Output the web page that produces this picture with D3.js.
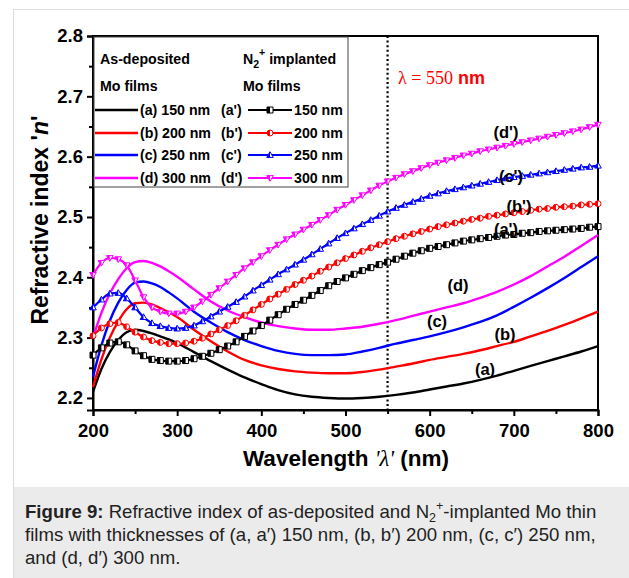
<!DOCTYPE html>
<html>
<head>
<meta charset="utf-8">
<script src="https://cdn.jsdelivr.net/npm/d3@7"></script>
<style>
  body { margin: 0; background: #fff; }
  svg { display: block; font-family: 'Liberation Sans', Arial, sans-serif; }
</style>
</head>
<body>
<svg id="chart" width="629" height="578"></svg>
<script>
'use strict'

// wavelengths (nm) of the as-deposited curves
const WL_SOLID = [200, 210, 220, 230, 240, 250, 260, 270, 280, 290, 300, 320, 340, 360, 380, 400, 420, 440, 460, 480,
  500, 520, 540, 560, 580, 600, 620, 640, 660, 680, 700, 720, 740, 760, 780, 800]

// refractive index, as-deposited films
const N_A = [2.210, 2.248, 2.276, 2.296, 2.309, 2.313, 2.311, 2.307, 2.302, 2.297, 2.291, 2.276, 2.261, 2.247, 2.234, 2.223, 2.213, 2.206, 2.202, 2.200,
  2.199, 2.200, 2.202, 2.205, 2.209, 2.214, 2.219, 2.224, 2.230, 2.237, 2.245, 2.253, 2.261, 2.269, 2.277, 2.286]
const N_B = [2.218, 2.264, 2.300, 2.327, 2.347, 2.357, 2.358, 2.355, 2.349, 2.342, 2.334, 2.313, 2.294, 2.277, 2.263, 2.254, 2.248, 2.244, 2.242, 2.241,
  2.241, 2.243, 2.247, 2.252, 2.257, 2.263, 2.268, 2.273, 2.279, 2.286, 2.293, 2.302, 2.311, 2.321, 2.332, 2.343]
const N_C = [2.235, 2.287, 2.328, 2.358, 2.379, 2.391, 2.393, 2.390, 2.384, 2.375, 2.365, 2.343, 2.325, 2.309, 2.296, 2.286, 2.278, 2.273, 2.271, 2.271,
  2.272, 2.277, 2.283, 2.290, 2.296, 2.302, 2.309, 2.317, 2.326, 2.337, 2.351, 2.366, 2.382, 2.399, 2.417, 2.435]
const N_D = [2.300, 2.341, 2.373, 2.397, 2.415, 2.425, 2.427, 2.424, 2.418, 2.410, 2.401, 2.380, 2.360, 2.345, 2.334, 2.325, 2.319, 2.315, 2.313, 2.313,
  2.315, 2.318, 2.323, 2.329, 2.336, 2.343, 2.350, 2.357, 2.366, 2.376, 2.388, 2.402, 2.418, 2.434, 2.452, 2.470]

// wavelengths (nm) of the N2+ implanted curves
const WL_IMPL = [200, 210, 220, 230, 240, 250, 260, 270, 280, 290, 300, 310, 320, 330, 340, 350, 360, 370, 380, 390,
  400, 410, 420, 430, 440, 450, 460, 470, 480, 490, 500, 510, 520, 530, 540, 550, 560, 570, 580, 590,
  600, 610, 620, 630, 640, 650, 660, 670, 680, 690, 700, 710, 720, 730, 740, 750, 760, 770, 780, 790, 800]

// refractive index, N2+ implanted films
const N_A2 = [2.271, 2.283, 2.291, 2.293, 2.288, 2.278, 2.270, 2.264, 2.262, 2.261, 2.261, 2.262, 2.265, 2.269, 2.274, 2.280, 2.286, 2.293, 2.302, 2.311,
  2.320, 2.329, 2.338, 2.347, 2.355, 2.362, 2.370, 2.378, 2.386, 2.393, 2.399, 2.405, 2.411, 2.416, 2.421, 2.425, 2.430, 2.435, 2.440, 2.444,
  2.448, 2.451, 2.454, 2.457, 2.460, 2.462, 2.464, 2.466, 2.468, 2.470, 2.471, 2.473, 2.474, 2.476, 2.477, 2.478, 2.479, 2.480, 2.481, 2.483, 2.484]
const N_B2 = [2.303, 2.316, 2.323, 2.325, 2.318, 2.309, 2.301, 2.295, 2.292, 2.290, 2.290, 2.291, 2.294, 2.299, 2.306, 2.313, 2.320, 2.328, 2.337, 2.346,
  2.355, 2.364, 2.372, 2.380, 2.388, 2.395, 2.402, 2.410, 2.417, 2.424, 2.431, 2.437, 2.443, 2.449, 2.454, 2.459, 2.464, 2.468, 2.472, 2.476,
  2.480, 2.484, 2.487, 2.490, 2.493, 2.496, 2.498, 2.501, 2.503, 2.505, 2.507, 2.509, 2.511, 2.513, 2.514, 2.516, 2.517, 2.518, 2.520, 2.521, 2.522]
const N_C2 = [2.350, 2.363, 2.373, 2.374, 2.365, 2.350, 2.334, 2.324, 2.319, 2.316, 2.315, 2.316, 2.320, 2.327, 2.335, 2.343, 2.351, 2.359, 2.368, 2.378,
  2.387, 2.396, 2.405, 2.413, 2.421, 2.429, 2.438, 2.447, 2.456, 2.465, 2.473, 2.481, 2.488, 2.495, 2.502, 2.509, 2.515, 2.520, 2.525, 2.530,
  2.535, 2.539, 2.543, 2.546, 2.549, 2.552, 2.555, 2.558, 2.561, 2.564, 2.566, 2.568, 2.570, 2.572, 2.574, 2.576, 2.578, 2.580, 2.582, 2.583, 2.585]
const N_D2 = [2.404, 2.424, 2.432, 2.430, 2.420, 2.395, 2.367, 2.350, 2.343, 2.340, 2.340, 2.343, 2.350, 2.360, 2.371, 2.382, 2.393, 2.404, 2.415, 2.425,
  2.435, 2.445, 2.454, 2.463, 2.471, 2.479, 2.487, 2.495, 2.503, 2.512, 2.520, 2.528, 2.536, 2.544, 2.552, 2.559, 2.565, 2.571, 2.576, 2.581,
  2.586, 2.590, 2.594, 2.598, 2.602, 2.605, 2.609, 2.612, 2.615, 2.618, 2.621, 2.624, 2.627, 2.630, 2.633, 2.636, 2.639, 2.642, 2.645, 2.649, 2.653]

const X_TICKS = [200, 300, 400, 500, 600, 700, 800]
const X_MINOR = [250, 350, 450, 550, 650, 750]
const Y_TICKS = [2.2, 2.3, 2.4, 2.5, 2.6, 2.7, 2.8]
const Y_MINOR = [2.25, 2.35, 2.45, 2.55, 2.65, 2.75]
const LAMBDA_MARK = 550

const LABELS = ['(a)', '(b)', '(c)', '(d)']
const LABELS_IMPL = ["(a')", "(b')", "(c')", "(d')"]
const THICKNESS = ['150 nm', '200 nm', '250 nm', '300 nm']

const COLORS = ['#000000', '#ff0000', '#0000ff', '#ff00ff']
const SHAPES = ['square', 'circle', 'up', 'down']

const PLOT = { left: 93, right: 598, top: 36, bottom: 410 }
const FONT = "'Liberation Sans', Arial, sans-serif"

const svg = d3.select('#chart')

// card and caption panel
svg.append('rect')
  .attr('x', 13.5).attr('y', 9.5)
  .attr('width', 640).attr('height', 600)
  .attr('fill', '#fff').attr('stroke', '#dcdcdc')
svg.append('rect')
  .attr('x', 14).attr('y', 487)
  .attr('width', 615).attr('height', 91)
  .attr('fill', '#ebebeb')

const x = d3.scaleLinear().domain([200, 800]).range([PLOT.left, PLOT.right])
const y = d3.scaleLinear().domain([2.18, 2.8]).range([PLOT.bottom, PLOT.top])

// axes
const xAxis = svg.append('g')
  .attr('transform', 'translate(0,' + PLOT.bottom + ')')
  .call(d3.axisBottom(x).tickValues(X_TICKS).tickSize(6).tickPadding(4).tickFormat(d3.format('d')))
svg.append('g')
  .attr('transform', 'translate(0,' + PLOT.bottom + ')')
  .call(d3.axisBottom(x).tickValues(X_MINOR).tickSize(4).tickFormat(''))
  .select('.domain').remove()

svg.append('g')
  .attr('transform', 'translate(' + PLOT.left + ',0)')
  .call(d3.axisLeft(y).tickValues(Y_TICKS).tickSize(6).tickPadding(4).tickFormat(d3.format('.1f')))
svg.append('g')
  .attr('transform', 'translate(' + PLOT.left + ',0)')
  .call(d3.axisLeft(y).tickValues(Y_MINOR).tickSize(4).tickFormat(''))
  .select('.domain').remove()

svg.selectAll('.tick line').attr('stroke-width', 2)
svg.selectAll('.domain').attr('stroke-width', 2)
svg.selectAll('.tick text')
  .attr('font-family', FONT)
  .attr('font-weight', 'bold')
  .attr('font-size', 18.5)
  .attr('fill', '#000')
xAxis.selectAll('.tick text').attr('dy', '0.9em')

// frame
svg.append('rect')
  .attr('x', PLOT.left).attr('y', PLOT.top)
  .attr('width', PLOT.right - PLOT.left).attr('height', PLOT.bottom - PLOT.top)
  .attr('fill', 'none').attr('stroke', '#000').attr('stroke-width', 2)

// axis titles
const yTitle = svg.append('text')
  .attr('transform', 'translate(48,220) rotate(-90)')
  .attr('text-anchor', 'middle')
  .attr('font-family', FONT).attr('font-weight', 'bold').attr('font-size', 23)
yTitle.append('tspan').text("Refractive index '")
yTitle.append('tspan').attr('font-style', 'italic').text('n')
yTitle.append('tspan').text("'")

const xTitle = svg.append('text')
  .attr('x', 346).attr('y', 466)
  .attr('text-anchor', 'middle')
  .attr('font-family', FONT).attr('font-weight', 'bold').attr('font-size', 22.5)
xTitle.append('tspan').text('Wavelength ')
xTitle.append('tspan').attr('font-style', 'italic').attr('font-family', "'Liberation Serif', serif").attr('font-weight', 'normal').text("'λ'")
xTitle.append('tspan').text(' (nm)')

// 550 nm marker line
svg.append('line')
  .attr('x1', x(LAMBDA_MARK)).attr('x2', x(LAMBDA_MARK))
  .attr('y1', PLOT.top).attr('y2', PLOT.bottom)
  .attr('stroke', '#000').attr('stroke-width', 2.2)
  .attr('stroke-dasharray', '2,2.6')

const lamb = svg.append('text')
  .attr('x', 398).attr('y', 84)
  .attr('fill', '#ff0000').attr('font-size', 18)
lamb.append('tspan').attr('font-family', "'Liberation Serif', serif").text('λ = ' + LAMBDA_MARK)
lamb.append('tspan').attr('font-family', FONT).attr('font-weight', 'bold').text(' nm')

// marker shapes: full outline and left half filled
function markerPaths (shape, s) {
  if (shape === 'square') {
    return ['M' + -s + ',' + -s + 'h' + 2 * s + 'v' + 2 * s + 'h' + -2 * s + 'Z',
      'M' + -s + ',' + -s + 'h' + s + 'v' + 2 * s + 'h' + -s + 'Z']
  }
  if (shape === 'circle') {
    return ['M0,' + -s + 'A' + s + ',' + s + ' 0 1 1 0,' + s + 'A' + s + ',' + s + ' 0 1 1 0,' + -s + 'Z',
      'M0,' + -s + 'A' + s + ',' + s + ' 0 0 0 0,' + s + 'Z']
  }
  const t = shape === 'up' ? 1 : -1
  const a = -1.1 * s * t
  const b = 0.8 * s * t
  return ['M0,' + a + 'L' + 1.1 * s + ',' + b + 'L' + -1.1 * s + ',' + b + 'Z',
    'M0,' + a + 'L0,' + b + 'L' + -1.1 * s + ',' + b + 'Z']
}

function drawMarker (g, shape, color, cx, cy) {
  const p = markerPaths(shape, 3)
  const m = g.append('g').attr('transform', 'translate(' + cx + ',' + cy + ')')
  m.append('path').attr('d', p[0]).attr('fill', '#fff').attr('stroke', color).attr('stroke-width', 1)
  m.append('path').attr('d', p[1]).attr('fill', color)
}

// curves
const plot = svg.append('g')
const solidSeries = [N_A, N_B, N_C, N_D]
const implSeries = [N_A2, N_B2, N_C2, N_D2]

const lineSolid = d3.line()
  .x((d, i) => x(WL_SOLID[i]))
  .y(d => y(d))
  .curve(d3.curveMonotoneX)
const lineImpl = d3.line()
  .x((d, i) => x(WL_IMPL[i]))
  .y(d => y(d))
  .curve(d3.curveMonotoneX)

solidSeries.forEach((s, k) => {
  plot.append('path')
    .datum(s)
    .attr('fill', 'none')
    .attr('stroke', COLORS[k])
    .attr('stroke-width', 2.4)
    .attr('d', lineSolid)
})

implSeries.forEach((s, k) => {
  plot.append('path')
    .datum(s)
    .attr('fill', 'none')
    .attr('stroke', COLORS[k])
    .attr('stroke-width', 2.2)
    .attr('d', lineImpl)
  s.forEach((v, i) => drawMarker(plot, SHAPES[k], COLORS[k], x(WL_IMPL[i]), y(v)))
})

// curve labels
const CURVE_LABEL_POS = [[485, 375], [505, 340], [437, 327], [458, 291]]
const IMPL_LABEL_POS = [[506, 235], [519, 212], [511, 182], [506, 138]]
LABELS.forEach((t, k) => {
  svg.append('text')
    .attr('x', CURVE_LABEL_POS[k][0]).attr('y', CURVE_LABEL_POS[k][1])
    .attr('text-anchor', 'middle')
    .attr('font-family', FONT).attr('font-weight', 'bold').attr('font-size', 16.5)
    .text(t)
  svg.append('text')
    .attr('x', IMPL_LABEL_POS[k][0]).attr('y', IMPL_LABEL_POS[k][1])
    .attr('text-anchor', 'middle')
    .attr('font-family', FONT).attr('font-weight', 'bold').attr('font-size', 16.5)
    .text(LABELS_IMPL[k])
})

// legend
const legend = svg.append('g')
  .attr('font-family', FONT).attr('font-weight', 'bold').attr('font-size', 14.2)
legend.append('rect')
  .attr('x', PLOT.left + 1).attr('y', PLOT.top + 1)
  .attr('width', 254).attr('height', 150)
  .attr('fill', '#fff').attr('stroke', '#444').attr('stroke-width', 1)
legend.append('text').attr('x', 100).attr('y', 64).text('As-deposited')
legend.append('text').attr('x', 100).attr('y', 91).text('Mo films')
const n2 = legend.append('text').attr('x', 243).attr('y', 64)
n2.append('tspan').text('N')
n2.append('tspan').attr('font-size', 10.5).attr('dy', 4).text('2')
n2.append('tspan').attr('font-size', 10.5).attr('dy', -12).text('+')
n2.append('tspan').attr('dy', 8).text(' implanted')
legend.append('text').attr('x', 243).attr('y', 91).text('Mo films')

const ROW_Y = [110, 133, 155, 178]
THICKNESS.forEach((t, k) => {
  const ry = ROW_Y[k]
  legend.append('line')
    .attr('x1', 95).attr('x2', 138).attr('y1', ry).attr('y2', ry)
    .attr('stroke', COLORS[k]).attr('stroke-width', 2.4)
  legend.append('text').attr('x', 140).attr('y', ry + 5).text(LABELS[k] + ' ' + t)
  legend.append('text').attr('x', 221).attr('y', ry + 5).text(LABELS_IMPL[k])
  legend.append('line')
    .attr('x1', 248).attr('x2', 292).attr('y1', ry).attr('y2', ry)
    .attr('stroke', COLORS[k]).attr('stroke-width', 2.2)
  drawMarker(legend, SHAPES[k], COLORS[k], 270, ry)
  legend.append('text').attr('x', 294).attr('y', ry + 5).text(t)
})

// caption
const cap = svg.append('text')
  .attr('font-family', FONT).attr('font-size', 18.6).attr('fill', '#222')
const l1 = cap.append('tspan').attr('x', 25).attr('y', 518)
l1.append('tspan').attr('font-weight', 'bold').text('Figure 9:')
l1.append('tspan').text(' Refractive index of as-deposited and N')
l1.append('tspan').attr('font-size', 12.5).attr('dy', 4).text('2')
l1.append('tspan').attr('font-size', 12.5).attr('dy', -12).text('+')
l1.append('tspan').attr('dy', 8).text('-implanted Mo thin')
cap.append('tspan').attr('x', 25).attr('y', 541)
  .text('films with thicknesses of (a, a′) 150 nm, (b, b′) 200 nm, (c, c′) 250 nm,')
cap.append('tspan').attr('x', 25).attr('y', 564)
  .text('and (d, d′) 300 nm.')
</script>
</body>
</html>
